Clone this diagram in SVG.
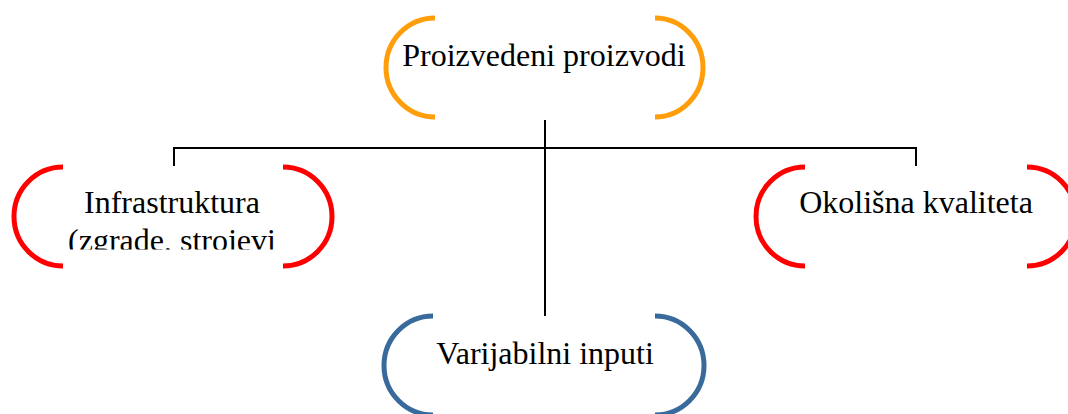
<svg xmlns="http://www.w3.org/2000/svg" width="1068" height="414" viewBox="0 0 1068 414">
<style>
.br{fill:none;stroke-width:5}
.o{stroke:#FF9E0A}
.r{stroke:#FF0000}
.b{stroke:#386A9C}
.t{font-family:"Liberation Serif","Times New Roman",serif;font-size:32px;fill:#000;text-anchor:middle}
.c{fill:none;stroke:#000;stroke-width:2}
</style>
<defs>
<clipPath id="clipInfra"><rect x="60" y="160" width="230" height="89.5"/></clipPath>
</defs>
<rect width="1068" height="414" fill="#fff"/>
<g id="connectors">
<path class="c" d="M545,120 V316"/>
<path class="c" d="M174,166 V148 H916 V166"/>
</g>
<g id="node-proizvedeni">
<path class="br o" d="M435,18 A49,49.5 0 0 0 435,117"/>
<path class="br o" d="M655,18 A48,49.5 0 0 1 655,117"/>
<text class="t" x="544" y="66">Proizvedeni proizvodi</text>
</g>
<g id="node-infrastruktura">
<path class="br r" d="M63,167 A49,49.5 0 0 0 63,266"/>
<path class="br r" d="M283,167 A49,49.5 0 0 1 283,266"/>
<text class="t" x="172" y="213" clip-path="url(#clipInfra)"><tspan x="172" y="213">Infrastruktura</tspan><tspan x="172" y="251">(zgrade, strojevi</tspan></text>
</g>
<g id="node-okolisna">
<path class="br r" d="M805,167 A49,49.5 0 0 0 805,266"/>
<path class="br r" d="M1027,167 A49,49.5 0 0 1 1027,266"/>
<text class="t" x="916" y="213">Okolišna kvaliteta</text>
</g>
<g id="node-varijabilni">
<path class="br b" d="M433,316 A49,49.5 0 0 0 433,415"/>
<path class="br b" d="M655,316 A49,49.5 0 0 1 655,415"/>
<text class="t" x="545" y="364">Varijabilni inputi</text>
</g>
</svg>
